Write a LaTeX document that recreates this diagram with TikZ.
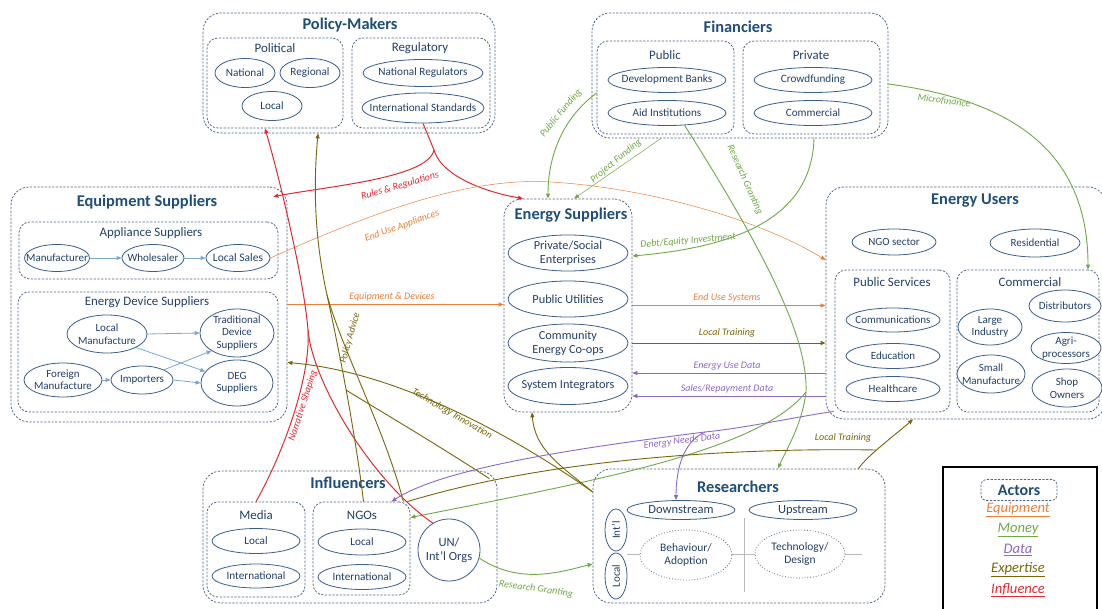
\documentclass[tikz,border=0pt]{standalone}
\usepackage{fontspec}
\setmainfont{Carlito}
\usetikzlibrary{shapes.geometric,arrows.meta,calc}
\definecolor{boxc}{HTML}{4A6584}
\definecolor{elc}{HTML}{3A5F8C}
\definecolor{txtc}{HTML}{22406A}
\definecolor{ttlc}{HTML}{1F4E79}
\definecolor{orc}{HTML}{EC7E3A}
\definecolor{grc}{HTML}{6EAA45}
\definecolor{puc}{HTML}{8D68C9}
\definecolor{olc}{HTML}{7A6508}
\definecolor{rdc}{HTML}{E02A32}
\definecolor{lbc}{HTML}{7AA6D6}
\newcommand\fsz[2]{\fontsize{#1}{#2}\selectfont}
\newcommand\fA{\fsz{11.2}{12.8}}
\newcommand\fB{\fsz{11}{12.5}}
\newcommand\fC{\fsz{12.3}{14}}
\newcommand\fT{\fsz{16.4}{19}\bfseries}
\newcommand\fS{\fsz{12.9}{15}}
\newcommand\fL{\fsz{10}{12}\itshape}
\newcommand\mkell[6]{\node[elp,minimum width=#3,minimum height=#4] (#1) at (#2) {};\node[etx,font=#5] (#1-t) at (#1.center) {#6};}
\begin{document}
\begin{tikzpicture}[x=1pt,y=-1pt]
\tikzset{
 obox/.style={draw=boxc,dash pattern=on 2.2pt off 1.5pt,line width=0.75pt,rounded corners=18pt,inner sep=0pt},
 ibox/.style={obox,rounded corners=11pt},
 elp/.style={ellipse,draw=elc,line width=0.8pt,fill=white,inner sep=0pt},
 delp/.style={ellipse,draw=elc!60!gray,dotted,line width=0.8pt,fill=white,inner sep=0pt},
 etx/.style={inner sep=0pt,align=center,text=txtc},
 ttl/.style={inner sep=0pt,text=ttlc,font=\fT},
 subttl/.style={inner sep=0pt,text=txtc,font=\fS},
 arrowhd/.style={-{Triangle[length=5pt,width=4pt]}},
 equip/.style={color=orc,line width=0.9pt},
 money/.style={color=grc,line width=0.9pt},
 datf/.style={color=puc,line width=0.9pt},
 expert/.style={color=olc,line width=0.9pt},
 infl/.style={color=rdc,line width=1pt},
 innerarr/.style={color=lbc,line width=0.8pt,arrowhd},
 clab/.style={inner sep=0pt,font=\fL},
}
\fill[white] (0,0) rectangle (1102,609);
\useasboundingbox (0,0) rectangle (1102,609);

% ---------- Policy-Makers
\node[obox,minimum width=292,minimum height=120] (pm) at (349,73) {};
\node[ttl] (pmT) at (350,25) {Policy-Makers};
\node[ibox,minimum width=136,minimum height=90] (pol) at (275,83) {};
\node[subttl] (polT) at (275,48) {Political};
\mkell{nat}{245,73}{60}{29}{\fA}{National}
\mkell{regn}{310,73}{60}{29}{\fA}{Regional}
\mkell{locp}{272,106}{60}{29}{\fA}{Local}
\node[ibox,minimum width=138,minimum height=90] (rgl) at (421,83) {};
\node[subttl] (rglT) at (420,48) {Regulatory};
\mkell{natr}{423,73}{120}{27}{\fA}{National Regulators}
\mkell{ints}{423,108}{122}{30}{\fA}{International Standards}

% ---------- Financiers
\node[obox,minimum width=296,minimum height=125] (fin) at (740,75.5) {};
\node[ttl] (finT) at (738,27) {Financiers};
\node[ibox,minimum width=137,minimum height=93] (pub) at (665.5,87.5) {};
\node[subttl] (pubT) at (665,55) {Public};
\mkell{devb}{667,80}{118}{25}{\fA}{Development Banks}
\mkell{aid}{667,113}{118}{25}{\fA}{Aid Institutions}
\node[ibox,minimum width=137,minimum height=93] (prv) at (811.5,87.5) {};
\node[subttl] (prvT) at (811,55) {Private};
\mkell{crowd}{813,80}{118}{25}{\fA}{Crowdfunding}
\mkell{comm}{813,113}{118}{25}{\fA}{Commercial}

% ---------- Equipment Suppliers
\node[obox,minimum width=276,minimum height=235] (eqs) at (149,304.5) {};
\node[ttl] (eqsT) at (147,202) {Equipment Suppliers};
\node[ibox,minimum width=259,minimum height=57] (app) at (148.5,250.5) {};
\node[subttl] (appT) at (151,233) {Appliance Suppliers};
\mkell{manu}{57,258}{65}{27}{\fB}{Manufacturer}
\mkell{whol}{153,258}{62}{27}{\fB}{Wholesaler}
\mkell{lsal}{238,258}{64}{27}{\fsz{11.5}{13}}{Local Sales}
\node[ibox,minimum width=260,minimum height=120] (eds) at (148,352) {};
\node[subttl] (edsT) at (147,302) {Energy Device Suppliers};
\mkell{lman}{107,334}{80}{38}{\fB}{Local\\Manufacture}
\mkell{trad}{237,333}{74}{48}{\fB}{Traditional\\Device\\Suppliers}
\mkell{fman}{63,380}{78}{34}{\fB}{Foreign\\Manufacture}
\mkell{imp}{142,380}{62}{28}{\fB}{Importers}
\mkell{deg}{237,383}{72}{46}{\fB}{DEG\\Suppliers}

% ---------- Energy Suppliers
\node[obox,minimum width=128,minimum height=213] (esup) at (568,305.5) {};
\node[ttl] (esT) at (571,215) {Energy Suppliers};
\mkell{pse}{568,253}{120}{36}{\fC}{Private/Social\\Enterprises}
\mkell{putil}{568,299}{120}{36}{\fC}{Public Utilities}
\mkell{ceco}{568,343}{120}{38}{\fC}{Community\\Energy Co-ops}
\mkell{sint}{568,386}{120}{37}{\fC}{System Integrators}

% ---------- Energy Users
\node[obox,minimum width=280,minimum height=232] (eu) at (966,303) {};
\node[ttl] (euT) at (975,201) {Energy Users};
\mkell{ngos}{894,242}{84}{26}{\fB}{NGO sector}
\mkell{resi}{1035,243}{90}{28}{\fB}{Residential}
\node[ibox,minimum width=115,minimum height=142] (psv) at (892.5,341) {};
\node[subttl] (psvT) at (892,282) {Public Services};
\mkell{comms}{893,320}{94}{24}{\fB}{Communications}
\mkell{edu}{893,356}{94}{25}{\fB}{Education}
\mkell{hlth}{893,389}{94}{25}{\fB}{Healthcare}
\node[ibox,minimum width=142,minimum height=142] (cml) at (1028,341) {};
\node[subttl] (cmlT) at (1030,282) {Commercial};
\mkell{lind}{990,327}{64}{36}{\fB}{Large\\Industry}
\mkell{dist}{1065,306}{72}{32}{\fB}{Distributors}
\mkell{agri}{1066,348}{70}{31}{\fB}{Agri-\\processors}
\mkell{sman}{991,374}{68}{38}{\fB}{Small\\Manufacture}
\mkell{shop}{1067,388}{70}{38}{\fB}{Shop\\Owners}

% ---------- Influencers
\node[obox,minimum width=294,minimum height=132] (inf) at (350,537) {};
\node[ttl] (infT) at (348,483) {Influencers};
\node[ibox,minimum width=98,minimum height=95] (media) at (256,549.5) {};
\node[subttl] (mediaT) at (256,515) {Media};
\mkell{mloc}{256,541}{88}{25}{\fA}{Local}
\mkell{mint}{256,576}{88}{24}{\fA}{International}
\node[ibox,minimum width=97,minimum height=93] (ngo) at (361.5,548.5) {};
\node[subttl] (ngoT) at (362,515) {NGOs};
\mkell{nloc}{362,542}{88}{26}{\fA}{Local}
\mkell{nint}{362,577}{88}{25}{\fA}{International}
\node[circle,draw=elc,line width=0.8pt,fill=white,minimum size=62,inner sep=0pt] (un) at (449,550) {};
\node[etx,font=\fsz{12.5}{14.5}] (un-t) at (un.center) {UN/\\Int’l Orgs};

% ---------- Researchers
\node[obox,minimum width=292,minimum height=134] (res) at (739,536) {};
\node[ttl] (resT) at (738,487) {Researchers};
\coordinate (hl1) at (627,554); \coordinate (hl2) at (862,554);
\coordinate (vl1) at (744,518); \coordinate (vl2) at (744,592);
\draw[gray!55,line width=0.7pt] (hl1) -- (hl2);
\draw[gray!55,line width=0.7pt] (vl1) -- (vl2);
\mkell{down}{681,510}{108}{19}{\fsz{12.5}{14}}{Downstream}
\mkell{up}{803,510}{108}{19}{\fsz{12.5}{14}}{Upstream}
\node[elp,minimum width=42,minimum height=22,rotate=90] (intl) at (616,530) {};
\node[etx,font=\fB,rotate=90] (intl-t) at (intl.center) {Int’l};
\node[elp,minimum width=46,minimum height=22,rotate=90] (rloc) at (616,576) {};
\node[etx,font=\fB,rotate=90] (rloc-t) at (rloc.center) {Local};
\node[delp,minimum width=92,minimum height=50] (beh) at (686,555) {};
\node[etx,font=\fsz{11.5}{13.5}] (beh-t) at (beh.center) {Behaviour/\\Adoption};
\node[delp,minimum width=90,minimum height=48] (tech) at (800,554) {};
\node[etx,font=\fsz{11.5}{13.5}] (tech-t) at (tech.center) {Technology/\\Design};

% ---------- Legend
\node[draw=black,line width=1.6pt,minimum width=154,minimum height=146,inner sep=0pt] (leg) at (1020,540) {};
\node[ibox,rounded corners=5pt,minimum width=76,minimum height=21] (act) at (1019,490) {};
\node[etx,font=\fsz{16}{18}\bfseries,text=ttlc] (actT) at (act.center) {Actors};
\node[clab,font=\fsz{14.6}{16}\itshape,text=orc] (lgE) at (1018,510) {\underline{Equipment}};
\node[clab,font=\fsz{14.6}{16}\itshape,text=grc] (lgM) at (1018,530) {\underline{Money}};
\node[clab,font=\fsz{14.6}{16}\itshape,text=puc] (lgD) at (1018,550) {\underline{Data}};
\node[clab,font=\fsz{14.6}{16}\itshape,text=olc] (lgX) at (1018,570) {\underline{Expertise}};
\node[clab,font=\fsz{14.6}{16}\itshape,text=rdc] (lgI) at (1018,590) {\underline{Influence}};

% ---------- inner equipment arrows
\draw[innerarr] (manu) -- (whol);
\draw[innerarr] (whol) -- (lsal);
\draw[innerarr] (lman.east) -- (trad.west);
\draw[innerarr] (lman.-25) -- (deg.160);
\draw[innerarr] (fman) -- (imp);
\draw[innerarr] (imp.25) -- (trad.215);
\draw[innerarr] (imp.east) -- (deg.west);

% ---------- Rules & Regulations
\coordinate (rrj) at (434,150);
\draw[infl] (ints.south) .. controls (428,136) .. (rrj);
\draw[infl,arrowhd] (rrj) .. controls (428,178) and (330,186) .. ($(eqs.north east)+(-14,10)$);
\draw[infl,arrowhd] (rrj) .. controls (440,172) and (475,190) .. ($(esup.north)+(-45,0)$);
\node[clab,text=rdc,rotate=16] (lRR) at (400,186) {Rules \& Regulations};

% ---------- End Use Appliances
\coordinate (eua) at (551,182);
\draw[equip,line width=0.5pt,arrowhd] (lsal.east) .. controls (400,200) and (480,178) .. (eua) .. controls (650,188) and (760,220) .. ($(eu.west)+(0,-43)$);
\node[clab,text=orc,rotate=20] (lEUA) at (402,226) {End Use Appliances};

% ---------- horizontal flows
\draw[equip,arrowhd] (eqs.east) -- (esup.west |- eqs.east);
\node[clab,text=orc] (lED) at (392,297) {Equipment \& Devices};
\draw[equip,line width=0.6pt,arrowhd] (esup.east) -- (eu.west |- esup.east);
\node[clab,text=orc] (lEUS) at (727,298) {End Use Systems};
\draw[expert,arrowhd] (esup.east |- ceco.center) -- (eu.west |- ceco.center);
\node[clab,text=olc] (lLT1) at (727,333) {Local Training};
\draw[datf,line width=0.6pt,arrowhd] ($(eu.west)+(0,70)$) -- ($(esup.east)+(0,67.5)$);
\node[clab,text=puc] (lEUD) at (727,366) {Energy Use Data};
\draw[datf,line width=0.6pt,arrowhd] ($(eu.west)+(0,93)$) -- ($(esup.east)+(0,90.5)$);
\node[clab,text=puc] (lSRD) at (727,389) {Sales/Repayment Data};

% ---------- Money
\draw[money,arrowhd] ($(pub.west)+(0,5.5)$) .. controls (560,120) and (548,160) .. ($(esup.north)+(-20,0)$);
\node[clab,text=grc,rotate=50] (lPF) at (561,113) {Public Funding};
\draw[money,line width=0.5pt,arrowhd] ($(fin.south)+(-79,0)$) -- ($(esup.north)+(6,0)$);
\node[clab,text=grc,rotate=40] (lPjF) at (616,161) {Project Funding};
\draw[money,arrowhd] ($(fin.south)+(74,0)$) .. controls (812,205) and (760,245) .. ($(pse.east)+(4,3)$);
\node[clab,text=grc,rotate=5] (lDE) at (688,241) {Debt/Equity Investment};
\coordinate (rgj) at (806,392);
\draw[money] (aid.-35) .. controls (770,260) and (808,340) .. (rgj);
\draw[money,arrowhd] (rgj) .. controls (802,425) and (786,450) .. ($(res.north)+(39,0)$);
\draw[money,arrowhd] (rgj) .. controls (760,450) and (600,480) .. ($(ngo.east)+(0,-31)$);
\node[clab,text=grc,rotate=-66] (lRG) at (745,180) {Research Granting};
\draw[money,arrowhd] ($(fin.east)+(0,8.5)$) .. controls (1010,100) and (1088,150) .. ($(cml.north)+(60,0)$);
\node[clab,text=grc,rotate=-7] (lMF) at (944,101) {Microfinance};
\draw[money,arrowhd] (un.-15) .. controls (520,585) and (560,572) .. ($(res.west)+(0,28)$);
\node[clab,text=grc,rotate=-8] (lRG2) at (536,589) {Research Granting};

% ---------- Influence (narrative shaping)
\coordinate (nsj) at (308,330);
\draw[infl,arrowhd] (nsj) .. controls (304,280) and (280,180) .. ($(pol.south)+(-10,0)$);
\draw[infl] (un.121) .. controls (370,480) and (312,380) .. (nsj);
\draw[infl] (media.north) .. controls (285,450) and (311,375) .. (nsj);
\node[clab,text=rdc,rotate=72] (lNS) at (303,406) {Narrative Shaping};

% ---------- Expertise
\coordinate (paj) at (327,295);
\coordinate (paj2) at (346,390);
\draw[expert,arrowhd] (paj) .. controls (315,240) and (313,190) .. ($(pm.south)+(-31,0)$);
\draw[expert] ($(ngo.north)+(2,0)$) .. controls (355,430) and (338,345) .. (paj);
\draw[expert] ($(ngo.north east)+(-7,0)$) .. controls (385,430) and (342,350) .. (paj);
\draw[expert] ($(inf.north east)+(-8,8)$) .. controls (430,440) and (370,405) .. (paj2);
\node[clab,text=olc,rotate=74] (lPA) at (350,338) {Policy Advice};
\coordinate (tij) at ($(res.west)+(0,-44)$);
\draw[expert,arrowhd] (tij) .. controls (520,440) and (400,372) .. ($(eqs.east)+(0,58)$);
\draw[expert,arrowhd] (tij) .. controls (560,465) and (535,450) .. ($(esup.south)+(-36,0)$);
\node[clab,text=olc,rotate=-30] (lTI) at (452,414) {Technology Innovation};
\coordinate (ltj) at (876,450);
\draw[expert,arrowhd] ($(res.north east)+(-27,0)$) .. controls (868,455) and (895,435) .. ($(eu.south)+(-53,0)$);
\draw[expert] ($(ngo.north east)+(-3,0)$) .. controls (560,455) and (760,448) .. (ltj);
\node[clab,text=olc] (lLT2) at (843,438) {Local Training};

% ---------- Data (energy needs)
\coordinate (ndj) at (705,432);
\draw[datf] ($(eu.south west)+(8,-8)$) .. controls (790,418) and (745,428) .. (ndj);
\draw[datf,arrowhd] (ndj) .. controls (560,450) and (440,470) .. ($(ngo.north)+(30,0)$);
\draw[datf,arrowhd] (ndj) .. controls (682,442) and (676,472) .. ($(down.north)+(-5,0)$);
\node[clab,text=puc,rotate=7] (lEND) at (682,441) {Energy Needs Data};
\end{tikzpicture}
\end{document}
